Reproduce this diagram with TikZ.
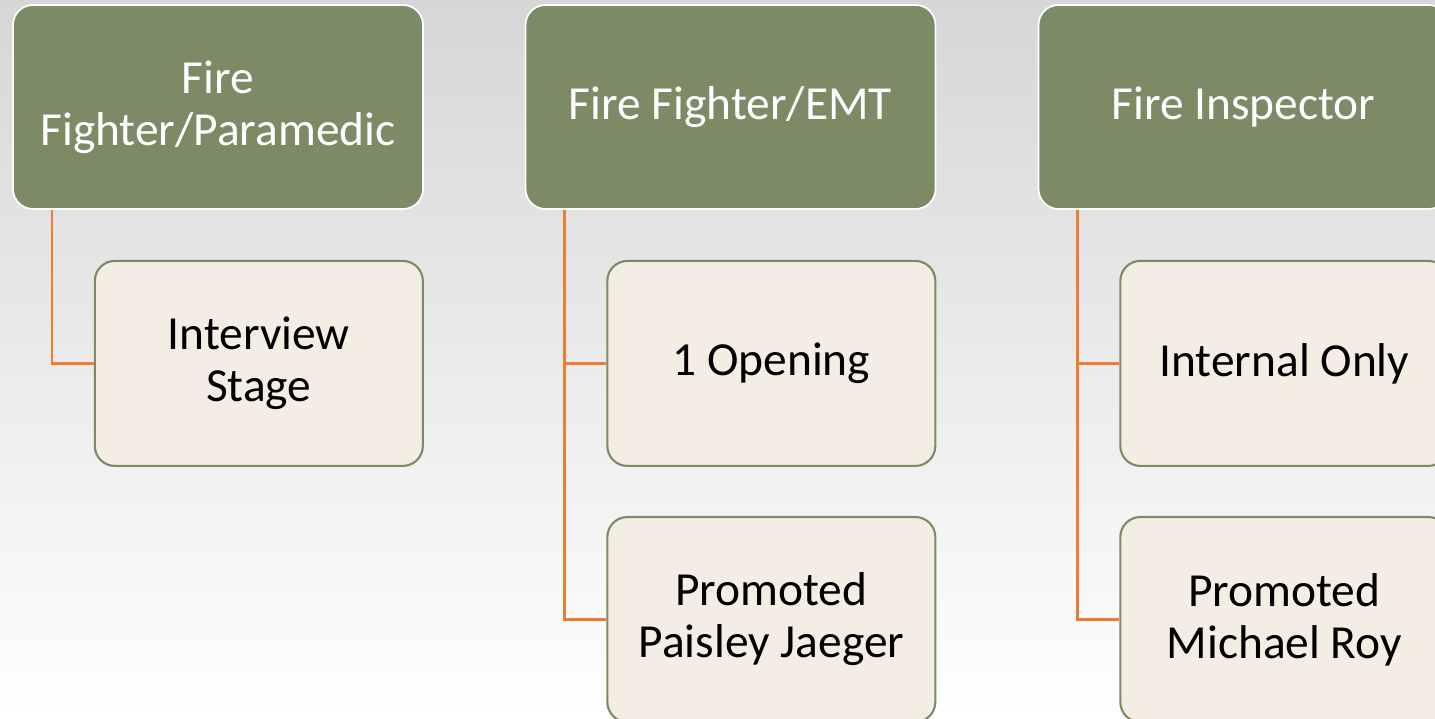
\documentclass[tikz,border=0pt]{standalone}
\usepackage{fontspec}
\setmainfont{Carlito}
\usepackage{tikz}
\usetikzlibrary{positioning}

\definecolor{olive}{RGB}{124,138,101}
\definecolor{cream}{RGB}{243,237,228}
\definecolor{tangerine}{RGB}{237,125,49}

\begin{document}
\begin{tikzpicture}[node distance=1.0cm]
       \tikzstyle{role}=[rectangle, rounded corners=0.4cm, fill=olive, draw=white, line width=1pt,
                         minimum width=8.2cm, minimum height=4.08cm, align=center, text=white,
                         font=\fontsize{27}{29.6}\selectfont]
       \tikzstyle{status}=[rectangle, rounded corners=0.4cm, fill=cream, draw=olive, line width=1.2pt,
                           minimum width=6.56cm, minimum height=4.1cm, align=center, text=black,
                           font=\fontsize{27}{29.6}\selectfont]
       \tikzstyle{link}=[draw=tangerine, line width=1.4pt]

       \clip (0,0) rectangle (28.7,14.38);
       \shade[top color=black!16, middle color=black!7, bottom color=white] (0,0) rectangle (28.7,14.38);

       \node[role] (p_1) at (4.36,12.24)  {Fire\\Fighter/Paramedic};
       \node[role] (p_2) at (14.61,12.24) {Fire Fighter/EMT};
       \node[role] (p_3) at (24.87,12.24) {Fire Inspector};

       \node[status] (c_1)  [below=of p_1.south east, anchor=north east] {Interview\\Stage};
       \node[status] (c_2a) [below=of p_2.south east, anchor=north east] {1 Opening};
       \node[status] (c_2b) [below=0.98cm of c_2a]                       {Promoted\\Paisley Jaeger};
       \node[status] (c_3a) [below=of p_3.south east, anchor=north east] {Internal Only};
       \node[status] (c_3b) [below=0.98cm of c_3a]                       {Promoted\\Michael Roy};

       \path[link]
       ([xshift=0.8cm]p_1.south west) edge[to path={|- (\tikztotarget)}] (c_1.west)
       ([xshift=0.8cm]p_2.south west) edge[to path={|- (\tikztotarget)}] (c_2a.west)
       ([xshift=0.8cm]p_2.south west) edge[to path={|- (\tikztotarget)}] (c_2b.west)
       ([xshift=0.8cm]p_3.south west) edge[to path={|- (\tikztotarget)}] (c_3a.west)
       ([xshift=0.8cm]p_3.south west) edge[to path={|- (\tikztotarget)}] (c_3b.west);
     \end{tikzpicture}
\end{document}
